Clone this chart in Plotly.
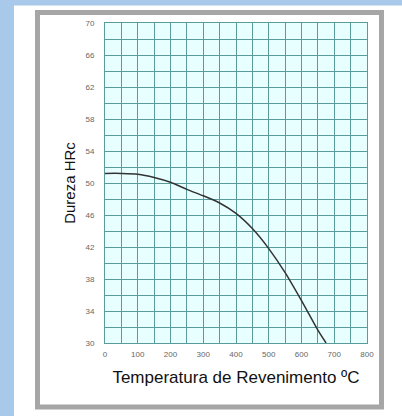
import plotly.graph_objects as go

temperature = [0, 50, 100, 150, 200, 250, 300, 350, 400, 450, 500, 550, 600, 650, 675]
hardness = [51.2, 51.2, 51.1, 50.7, 50.1, 49.2, 48.4, 47.5, 46.2, 44.3, 41.8, 38.8, 35.3, 31.6, 30.0]

x_ticks = [0, 100, 200, 300, 400, 500, 600, 700, 800]
y_ticks = [30, 34, 38, 42, 46, 50, 54, 58, 62, 66, 70]

W, H = 402, 416
L, R, T, B = 105, 367, 23, 343

def px(v):
    return (v - L) / (R - L)

def py(v):
    return (B - v) / (B - T)

fig = go.Figure()
fig.add_trace(go.Scatter(x=temperature, y=hardness, mode="lines",
                         line=dict(color="#333333", width=1.5, shape="spline", smoothing=0.8),
                         hoverinfo="skip", showlegend=False))

grid = "#5a9c9c"
shapes = [
    dict(type="rect", xref="paper", yref="paper", x0=px(0), x1=px(14), y0=py(416), y1=py(0),
         fillcolor="#a9c9ea", line=dict(width=0), layer="below"),
    dict(type="rect", xref="paper", yref="paper", x0=px(0), x1=px(402), y0=py(5.5), y1=py(0),
         fillcolor="#a9c9ea", line=dict(width=0), layer="below"),
    dict(type="rect", xref="paper", yref="paper", x0=px(37.5), x1=px(381.5), y0=py(407), y1=py(12.5),
         fillcolor="rgba(0,0,0,0)", line=dict(color="#a6a6a6", width=5), layer="below"),
]

fig.update_layout(
    width=W, height=H,
    margin=dict(l=L, r=W - R, t=T, b=H - B, autoexpand=False),
    paper_bgcolor="white",
    plot_bgcolor="#e8ffff",
    shapes=shapes,
    font=dict(family="Liberation Sans, Arial, sans-serif", color="#222"),
    xaxis=dict(range=[0, 800], tickvals=x_ticks, showgrid=True, gridcolor=grid, gridwidth=1,
               minor=dict(dtick=50, tick0=0, showgrid=True, gridcolor=grid, gridwidth=1),
               zeroline=False, showline=True, linecolor=grid, mirror=True,
               tickfont=dict(size=8, color="#666"), ticks="", ticklabelstandoff=3,
               title=dict(text="Temperatura de Revenimento ºC", font=dict(size=17, color="#111"), standoff=13),
               fixedrange=True),
    yaxis=dict(range=[30, 70], tickvals=y_ticks, showgrid=True, gridcolor=grid, gridwidth=1,
               minor=dict(dtick=2, tick0=30, showgrid=True, gridcolor=grid, gridwidth=1),
               zeroline=False, showline=True, linecolor=grid, mirror=True,
               tickfont=dict(size=8, color="#666"), ticks="", ticklabelstandoff=8,
               title=dict(text="Dureza HRc", font=dict(size=15, color="#111"), standoff=6),
               fixedrange=True),
)

fig.write_html("out.html", config={"displayModeBar": False, "staticPlot": True},
               post_script="document.body.style.margin='0';document.body.style.padding='0';")
